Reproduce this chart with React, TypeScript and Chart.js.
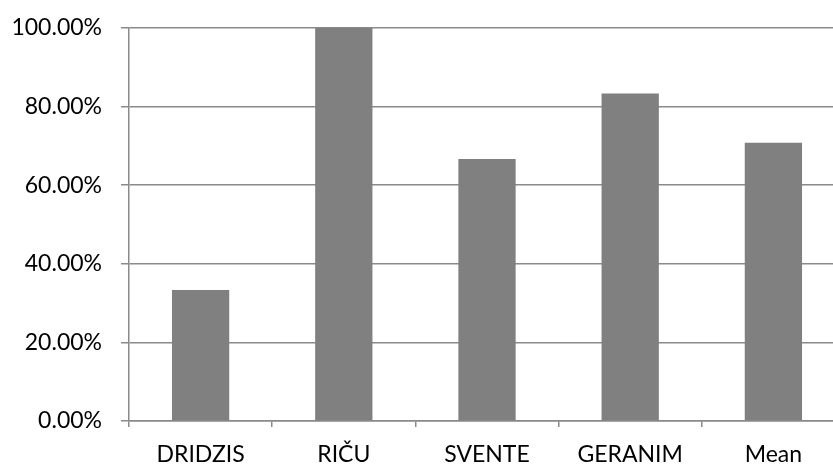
import React, { useEffect, useRef } from "react";
import { Chart, registerables } from "chart.js";

Chart.register(...registerables);

const categories = ["DRIDZIS", "RIČU", "SVENTE", "GERANIM", "Mean"];
const shareValues = [33.33, 100, 66.67, 83.33, 70.83];
const yTickValues = [0, 20, 40, 60, 80, 100];

const FONT = "Lato, 'Open Sans', sans-serif";

export default function App() {
  const canvasRef = useRef<HTMLCanvasElement | null>(null);

  useEffect(() => {
    const canvas = canvasRef.current;
    if (!canvas) return;
    const chart = new Chart(canvas, {
      type: "bar",
      data: {
        labels: categories,
        datasets: [
          {
            data: shareValues,
            backgroundColor: "#808080",
            borderWidth: 0,
            barPercentage: 0.8,
            categoryPercentage: 0.5,
          },
        ],
      },
      options: {
        responsive: false,
        animation: false,
        devicePixelRatio: 1,
        layout: { padding: { top: 28, right: 0, left: 0, bottom: 0 } },
        plugins: { legend: { display: false }, tooltip: { enabled: false } },
        scales: {
          x: {
            offset: true,
            grid: {
              offset: true,
              drawOnChartArea: false,
              drawTicks: true,
              tickLength: 6,
              color: "#8a8a8a",
              lineWidth: 1.5,
            },
            border: { display: true, color: "#8a8a8a", width: 1.5 },
            ticks: {
              color: "#000",
              font: { family: FONT, size: 23 },
              padding: 14,
              maxRotation: 0,
            },
            afterFit: (scale: any) => {
              scale.height = 43;
              scale.paddingLeft = 0;
              scale.paddingRight = 0;
            },
          },
          y: {
            min: 0,
            max: 100,
            afterBuildTicks: (scale: any) => {
              scale.ticks = yTickValues.map((v) => ({ value: v }));
            },
            grid: {
              color: "#8a8a8a",
              lineWidth: 1.5,
              tickLength: 8,
            },
            border: { display: true, color: "#8a8a8a", width: 1.5 },
            ticks: {
              color: "#000",
              font: { family: FONT, size: 23 },
              padding: 19,
              callback: (v: any) => Number(v).toFixed(2) + "%",
            },
            afterFit: (scale: any) => {
              scale.width = 129;
              scale.paddingTop = 0;
              scale.paddingBottom = 0;
            },
          },
        },
      },
    });
    return () => chart.destroy();
  }, []);

  return (
    <div
      style={{
        position: "fixed",
        left: 0,
        top: 0,
        width: 833,
        height: 464,
        overflow: "hidden",
        background: "#fff",
      }}
    >
      <canvas ref={canvasRef} width={845} height={464} style={{ display: "block" }} />
    </div>
  );
}
